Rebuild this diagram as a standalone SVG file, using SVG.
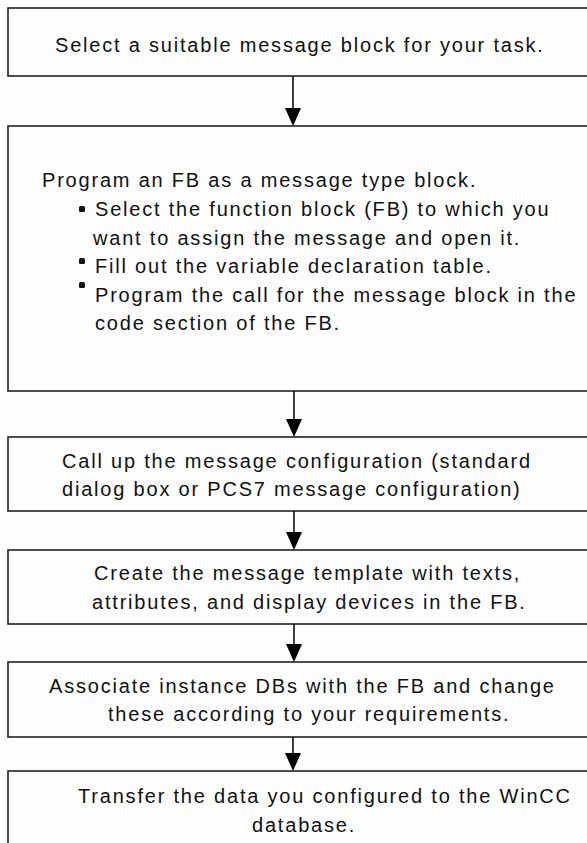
<svg xmlns="http://www.w3.org/2000/svg" width="587" height="843" viewBox="0 0 587 843">
  <style>
    .box { fill: #fdfdfd; stroke: #222; stroke-width: 1.6; }
    .t { font-family: "Liberation Sans", Arial, sans-serif; font-size: 20px; fill: #111; letter-spacing: 1.8px; }
    .conn line { stroke: #111; stroke-width: 1.6; }
    .conn polygon { fill: #000; }
    .bul { fill: #111; }
  </style>
  <rect width="587" height="843" fill="#fdfdfd"/>

  <g id="n1">
    <rect class="box" x="8" y="8" width="600" height="68"/>
    <text class="t" x="55" y="52">Select a suitable message block for your task.</text>
  </g>

  <g id="n2">
    <rect class="box" x="8" y="126" width="600" height="265"/>
    <text class="t" x="42" y="187">Program an FB as a message type block.</text>
    <rect class="bul" x="79" y="206" width="6" height="6" rx="1.5"/>
    <text class="t" x="95" y="216">Select the function block (FB) to which you</text>
    <text class="t" x="93" y="245">want to assign the message and open it.</text>
    <rect class="bul" x="79" y="258" width="6" height="6" rx="1.5"/>
    <text class="t" x="95" y="273">Fill out the variable declaration table.</text>
    <rect class="bul" x="79" y="282" width="6" height="6" rx="1.5"/>
    <text class="t" x="95" y="302">Program the call for the message block in the</text>
    <text class="t" x="95" y="330">code section of the FB.</text>
  </g>

  <g id="n3">
    <rect class="box" x="8" y="437" width="600" height="74"/>
    <text class="t" x="62" y="468">Call up the message configuration (standard</text>
    <text class="t" x="62" y="496">dialog box or PCS7 message configuration)</text>
  </g>

  <g id="n4">
    <rect class="box" x="8" y="550" width="600" height="74"/>
    <text class="t" x="94" y="580">Create the message template with texts,</text>
    <text class="t" x="92" y="609">attributes, and display devices in the FB.</text>
  </g>

  <g id="n5">
    <rect class="box" x="8" y="662" width="600" height="75"/>
    <text class="t" x="49" y="693">Associate instance DBs with the FB and change</text>
    <text class="t" x="108" y="721">these according to your requirements.</text>
  </g>

  <g id="n6">
    <rect class="box" x="8" y="771" width="600" height="100"/>
    <text class="t" x="78" y="803">Transfer the data you configured to the WinCC</text>
    <text class="t" x="252" y="832">database.</text>
  </g>

  <g id="connectors" class="conn">
    <line x1="293" y1="76" x2="293" y2="110"/>
    <polygon points="285,108 301,108 293,126"/>
    <line x1="294" y1="391" x2="294" y2="421"/>
    <polygon points="286,419 302,419 294,437"/>
    <line x1="294" y1="511" x2="294" y2="534"/>
    <polygon points="286,532 302,532 294,550"/>
    <line x1="294" y1="624" x2="294" y2="646"/>
    <polygon points="286,644 302,644 294,662"/>
    <line x1="293" y1="737" x2="293" y2="755"/>
    <polygon points="285,753 301,753 293,771"/>
  </g>
</svg>
